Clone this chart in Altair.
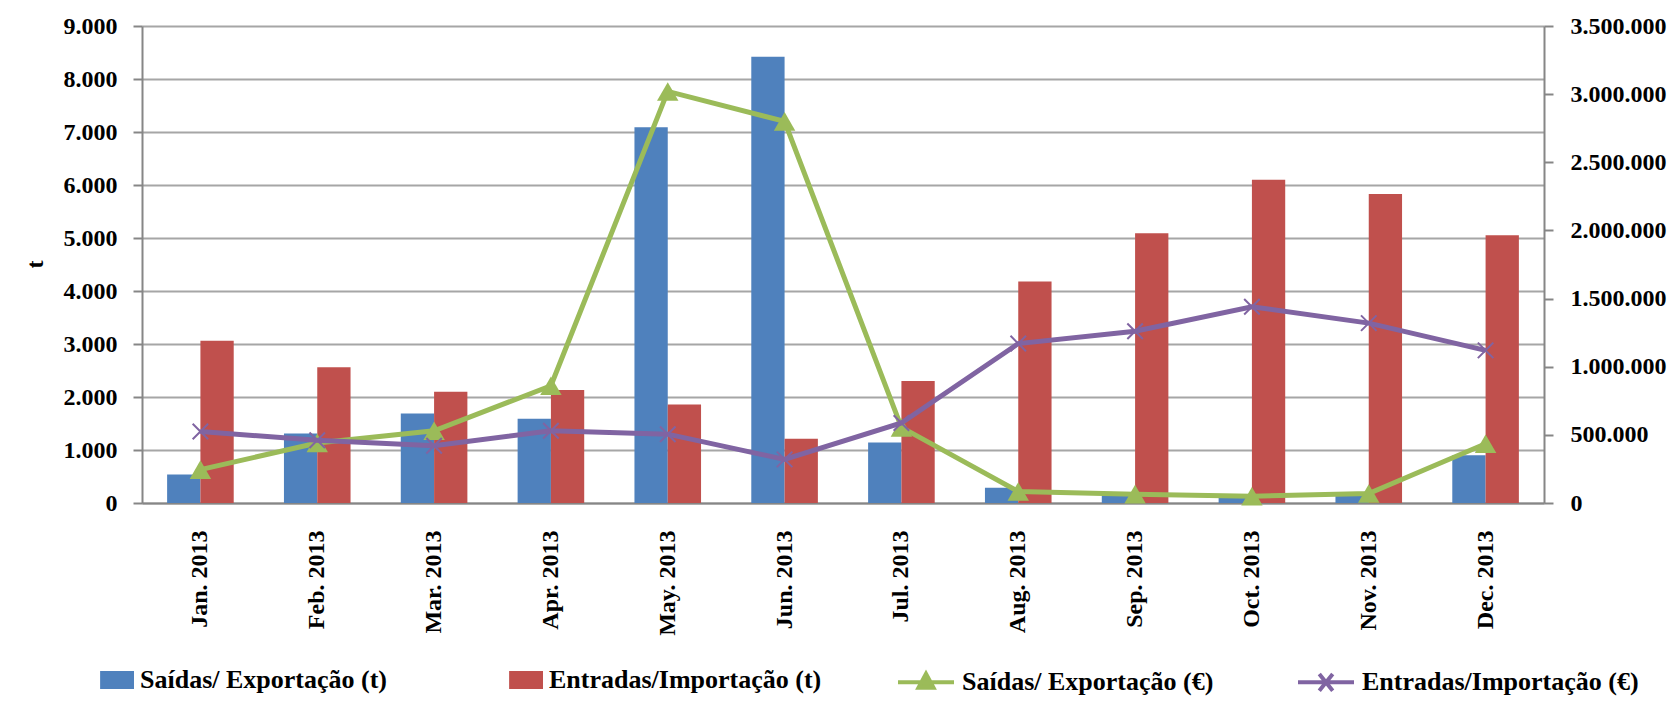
import altair as alt
import pandas as pd

months = ["Jan. 2013", "Feb. 2013", "Mar. 2013", "Apr. 2013", "May. 2013", "Jun. 2013",
          "Jul. 2013", "Aug. 2013", "Sep. 2013", "Oct. 2013", "Nov. 2013", "Dec. 2013"]
series_names = ["Saídas/ Exportação (t)", "Entradas/Importação (t)",
                "Saídas/ Exportação (€)", "Entradas/Importação (€)"]
saidas_t = [540, 1310, 1690, 1590, 7090, 8420, 1140, 290, 160, 130, 160, 900]
entradas_t = [3060, 2560, 2100, 2130, 1860, 1210, 2300, 4180, 5090, 6100, 5830, 5050]
saidas_eur = [245000, 440000, 530000, 860000, 3020000, 2800000, 555000, 85000, 65000, 50000, 70000, 435000]
entradas_eur = [525000, 460000, 420000, 530000, 505000, 320000, 587000, 1170000, 1260000, 1440000, 1320000, 1120000]
colors = ["#4F81BD", "#C0504D", "#9BBB59", "#8064A2"]

FONT = "Liberation Serif"
GRID = "#A6A6A6"
AXIS = "#868686"

rows_t = []
for m, a, b in zip(months, saidas_t, entradas_t):
    rows_t.append({"month": m, "series": series_names[0], "value": a})
    rows_t.append({"month": m, "series": series_names[1], "value": b})
df_t = pd.DataFrame(rows_t)

rows_e = []
for m, a, b in zip(months, saidas_eur, entradas_eur):
    rows_e.append({"month": m, "series": series_names[2], "value": a})
    rows_e.append({"month": m, "series": series_names[3], "value": b})
df_e = pd.DataFrame(rows_e)

label_expr = "replace(format(datum.value, ','), regexp(',', 'g'), '.')"


def make_legend(x, symbol, stroke_w, color=None, col_pad=100):
    kw = dict(title=None, orient="none", legendX=x, legendY=626,
              direction="horizontal", columns=2, columnPadding=col_pad,
              labelFont=FONT, labelFontSize=26, labelFontWeight="bold",
              labelColor="black", labelLimit=0, labelOffset=6,
              symbolSize=3136, symbolOpacity=1, symbolType=symbol,
              symbolStrokeWidth=stroke_w)
    if color is not None:
        kw["symbolFillColor"] = color
        kw["symbolStrokeColor"] = color
    return alt.Legend(**kw)


x_enc = alt.X("month:N", sort=months,
              scale=alt.Scale(paddingInner=0.43, paddingOuter=0.215),
              axis=alt.Axis(title=None, labelAngle=-90, labelAlign="right",
                            labelBaseline="middle", labelPadding=27, ticks=False,
                            domainColor=AXIS, domainWidth=2, labelFont=FONT,
                            labelFontSize=24, labelFontWeight="bold",
                            labelColor="black", grid=False))

bars = alt.Chart(df_t).mark_bar().encode(
    x=x_enc,
    xOffset=alt.XOffset("series:N", sort=series_names[:2]),
    y=alt.Y("value:Q", scale=alt.Scale(domain=[0, 9000], nice=False),
            axis=alt.Axis(values=list(range(0, 9001, 1000)), labelExpr=label_expr,
                          title="t", titleX=-107, titleY=238, titleAngle=-90,
                          titleAlign="center", titleBaseline="middle",
                          titleFont=FONT, titleFontSize=24, titleFontWeight="bold",
                          labelFont=FONT, labelFontSize=24, labelFontWeight="bold",
                          labelColor="black", labelPadding=16,
                          tickSize=9, tickColor=AXIS, tickWidth=2,
                          domainColor=AXIS, domainWidth=2,
                          grid=True, gridColor=GRID, gridWidth=2)),
    color=alt.Color("series:N",
                    scale=alt.Scale(domain=series_names[:2], range=colors[:2]),
                    legend=make_legend(-64, "M-0.21,-0.32H1V0.32H-0.21Z", 0, col_pad=100)),
)

y_e = alt.Y("value:Q", scale=alt.Scale(domain=[0, 3500000], nice=False),
            axis=alt.Axis(orient="right", values=list(range(0, 3500001, 500000)),
                          labelExpr=label_expr, title=None,
                          labelFont=FONT, labelFontSize=24, labelFontWeight="bold",
                          labelColor="black", labelPadding=17,
                          tickSize=9, tickColor=AXIS, tickWidth=2,
                          domainColor=AXIS, domainWidth=2, grid=False))

green = alt.Chart(df_e).transform_filter(
    alt.datum.series == series_names[2]
).mark_line(
    strokeWidth=5,
    point=alt.OverlayMarkDef(shape="triangle-up", size=460, filled=True, opacity=1),
).encode(
    x=x_enc, y=y_e,
    color=alt.Color("series:N",
                    scale=alt.Scale(domain=[series_names[2]], range=[colors[2]]),
                    legend=make_legend(754, "M-1,0H1M0,-0.3L0.27,0.2H-0.27Z", 4, colors[2])),
)

purple = alt.Chart(df_e).transform_filter(
    alt.datum.series == series_names[3]
).mark_line(
    strokeWidth=5,
    point=alt.OverlayMarkDef(shape="M-1,-1L1,1M-1,1L1,-1", size=240, filled=False,
                             strokeWidth=2, opacity=1),
).encode(
    x=x_enc, y=y_e,
    color=alt.Color("series:N",
                    scale=alt.Scale(domain=[series_names[3]], range=[colors[3]]),
                    legend=make_legend(1154, "M-1,0H1M-0.24,-0.3L0.24,0.3M-0.24,0.3L0.24,-0.3",
                                       4, colors[3])),
)

eur_layer = alt.layer(green, purple).resolve_scale(color="independent")

chart = alt.layer(bars, eur_layer).resolve_scale(y="independent", color="independent").properties(
    width=1402, height=477,
    autosize=alt.AutoSizeParams(type="none"),
    padding={"left": 134, "top": 18, "right": 127, "bottom": 202},
    background="white",
).configure_view(stroke=None)

chart.save("out.html", embed_options={"renderer": "svg", "actions": False})
